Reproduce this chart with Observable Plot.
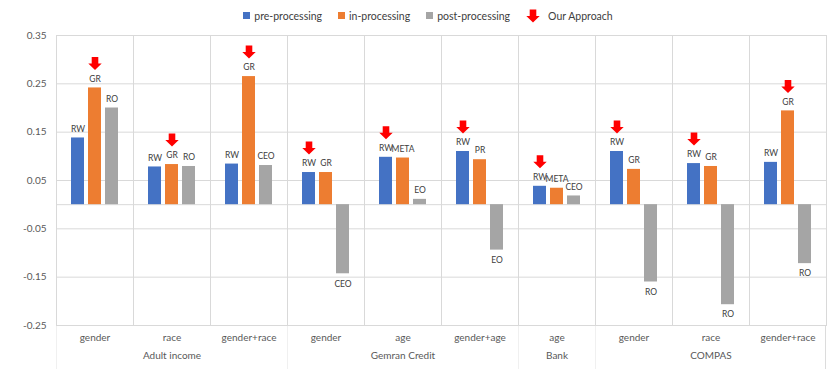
<!DOCTYPE html>
<html><head><meta charset="utf-8">
<script src="https://cdn.jsdelivr.net/npm/d3@7"></script>
<script src="https://cdn.jsdelivr.net/npm/@observablehq/plot@0.6"></script>
<style>
body{margin:0;background:#fff;font-family:Lato,"Noto Sans",sans-serif;}
#legend{height:28px;display:flex;align-items:center;justify-content:center;gap:16px;font-size:10.5px;color:#404040;padding-left:26px;padding-top:3px;box-sizing:border-box}
.item{display:flex;align-items:center;gap:4px}
.sw{width:7px;height:7px;display:inline-block}
</style></head><body>
<div id="legend"></div><div id="chart"></div>
<script>
// ---- data ----
const groups = ["Adult income","Adult income","Adult income","Gemran Credit","Gemran Credit","Gemran Credit","Bank","COMPAS","COMPAS","COMPAS"];
const subcats = ["gender","race","gender+race","gender","age","gender+age","age","gender","race","gender+race"];
const seriesKeys = ["pre","in","post"];
const seriesNames = ["pre-processing","in-processing","post-processing"];
const seriesColors = ["#4472C4","#ED7D31","#A5A5A5"];
const preValues  = [0.138, 0.078, 0.084, 0.0665, 0.098, 0.110, 0.038, 0.110, 0.085, 0.0875];
const inValues   = [0.2415, 0.083, 0.265, 0.0665, 0.0965, 0.093, 0.034, 0.073, 0.079, 0.194];
const postValues = [0.200, 0.079, 0.081, -0.143, 0.011, -0.094, 0.018, -0.160, -0.207, -0.122];
const preLabels  = ["RW","RW","RW","RW","RW","RW","RW","RW","RW","RW"];
const inLabels   = ["GR","GR","GR","GR","META","PR","META","GR","GR","GR"];
const postLabels = ["RO","RO","CEO","CEO","EO","EO","CEO","RO","RO","RO"];
const ourApproach = ["in","in","in","pre","pre","pre","pre","pre","pre","in"];
const yTicks = [-0.25,-0.15,-0.05,0.05,0.15,0.25,0.35];

// ---- layout ----
const W = 830, H = 341, mL = 53, mR = 1, mT = 7, mB = 44;
const facetW = (W - mL - mR) / subcats.length;
const gridColor = "#d9d9d9";

const keys = subcats.map((s,i)=>groups[i]+"|"+s);
const valuesBySeries = [preValues, inValues, postValues];
const labelsBySeries = [preLabels, inLabels, postLabels];
const rows = [];
keys.forEach((k,i)=>seriesKeys.forEach((s,j)=>rows.push({key:k, series:s, value:valuesBySeries[j][i], label:labelsBySeries[j][i], ours: ourApproach[i]===s})));

const groupNames = [...new Set(groups)];
const groupInfo = groupNames.map(g=>{
  const idx = groups.map((d,i)=>d===g?i:-1).filter(i=>i>=0);
  return {name:g, first:keys[idx[0]], mid:keys[idx[Math.floor(idx.length/2)]], last:keys[idx[idx.length-1]]};
});
const lastGroup = [groupInfo[groupInfo.length-1]];

const arrow = {draw(ctx, size){
  const s = Math.sqrt(size/Math.PI)/6.5;
  ctx.moveTo(-3.3*s,-6.5*s); ctx.lineTo(3.3*s,-6.5*s); ctx.lineTo(3.3*s,0);
  ctx.lineTo(6.7*s,0); ctx.lineTo(0,6.5*s); ctx.lineTo(-6.7*s,0); ctx.lineTo(-3.3*s,0); ctx.closePath();
}};

// ---- legend ----
const legend = document.getElementById("legend");
seriesNames.forEach((n,i)=>{
  const it = document.createElement("div"); it.className="item";
  it.innerHTML = `<span class="sw" style="background:${seriesColors[i]}"></span><span>${n}</span>`;
  legend.appendChild(it);
});
const ar = document.createElement("div"); ar.className="item"; ar.style.gap="8px";
ar.innerHTML = `<svg width="14" height="14" viewBox="-7 -7 14 14"><path d="M-3.3,-6.5L3.3,-6.5L3.3,0L6.7,0L0,6.5L-6.7,0L-3.3,0Z" fill="#ff0000"/></svg><span>Our Approach</span>`;
legend.appendChild(ar);

// ---- chart ----
const chart = Plot.plot({
  width: W, height: H, marginLeft: mL, marginRight: mR, marginTop: mT, marginBottom: mB,
  style: {fontFamily: "Lato, 'Noto Sans', sans-serif", fontSize: "10px", color: "#595959", background: "white", overflow: "visible"},
  fx: {domain: keys, padding: 0, tickFormat: k => k.split("|")[1], tickSize: 0, tickPadding: 8, label: null},
  x: {domain: seriesKeys, paddingInner: 0.21, paddingOuter: 0.85, axis: null},
  y: {domain: [-0.25, 0.35], ticks: yTicks, tickFormat: d => d.toFixed(2), tickSize: 0, tickPadding: 10, label: null},
  color: {domain: seriesKeys, range: seriesColors},
  marks: [
    Plot.ruleY(yTicks, {stroke: gridColor}),
    Plot.ruleY([0], {stroke: gridColor}),
    Plot.frame({stroke: gridColor}),
    Plot.rect(groupInfo, {fx: "first", y1: -0.25, y2: -0.4, fill: gridColor, insetRight: facetW - 1}),
    Plot.rect(lastGroup, {fx: "last", y1: -0.25, y2: -0.4, fill: gridColor, insetLeft: facetW - 1.5}),
    Plot.barY(rows, {fx: "key", x: "series", y: "value", fill: "series"}),
    Plot.text(rows, {filter: d => d.value >= 0, fx: "key", x: "series", y: "value", text: "label", dy: -9, fontSize: 8.5, fill: "#404040"}),
    Plot.text(rows, {filter: d => d.value < 0, fx: "key", x: "series", y: "value", text: "label", dy: 10, fontSize: 8.5, fill: "#404040"}),
    Plot.dot(rows, {filter: d => d.ours, fx: "key", x: "series", y: "value", dy: -24.5, symbol: arrow, r: 6.5, fill: "#ff0000", stroke: "none"}),
    Plot.text(groupInfo, {fx: "mid", text: "name", frameAnchor: "bottom", dy: 33, fontSize: 10, fill: "#595959"})
  ]
});
document.getElementById("chart").appendChild(chart);
</script>
</body></html>
